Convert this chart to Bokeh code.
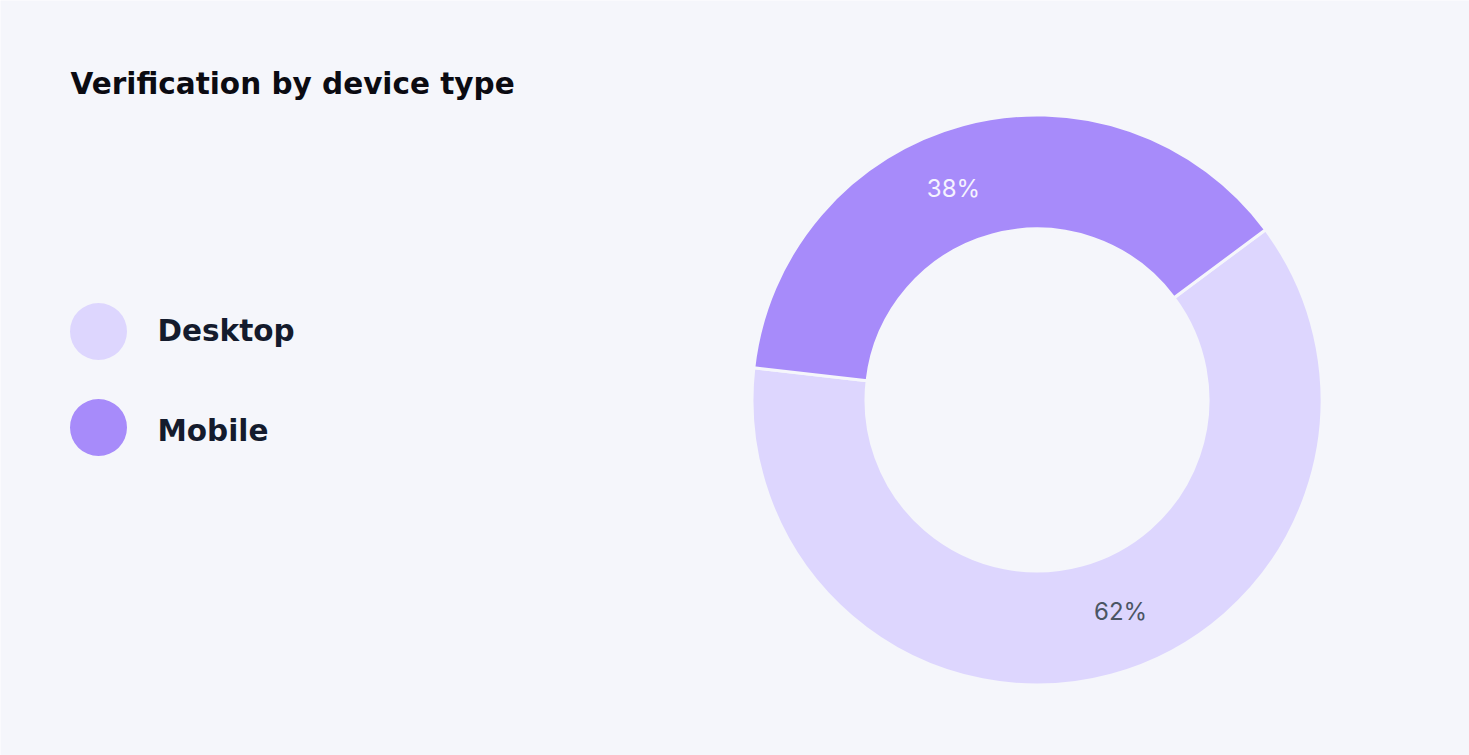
import math
from bokeh.plotting import figure
from bokeh.models import Range1d, ColumnDataSource
from bokeh.core.properties import value
from bokeh.embed import file_html
from bokeh.resources import INLINE

# ---- data ----
categories = ["Desktop", "Mobile"]
shares = [62, 38]
labels = ["62%", "38%"]
colors = ["#DDD6FE", "#A78BFA"]
label_colors = ["#4B5563", "#F5F3FF"]
title_text = "Verification by device type"

W, H = 1469, 755
BG = "#F5F6FB"
FONT = "DejaVu Sans"

p = figure(width=W, height=H, x_range=Range1d(0, W), y_range=Range1d(0, H),
           output_backend="svg", toolbar_location=None, min_border=0,
           background_fill_color=BG, border_fill_color=BG)
p.axis.visible = False
p.grid.visible = False
p.outline_line_color = None

# donut geometry (screen coords, y flipped)
cx, cy = 1036.5, H - 399.5
r_out, r_in = 285, 171
start0 = math.radians(173.5)  # Desktop starts here, going counterclockwise

total = sum(shares)
starts, ends, lx, ly = [], [], [], []
a = start0
for s in shares:
    span = 2 * math.pi * s / total
    starts.append(a)
    ends.append(a + span)
    mid = a + span / 2 + math.radians(6.5)
    lx.append(cx + 227 * math.cos(mid))
    ly.append(cy + 227 * math.sin(mid))
    a += span

src = ColumnDataSource(dict(cat=categories, start=starts, end=ends, color=colors,
                            lx=lx, ly=ly, label=labels, lc=label_colors))
p.annular_wedge(x=cx, y=cy, inner_radius=r_in, outer_radius=r_out,
                start_angle="start", end_angle="end", fill_color="color",
                line_color=BG, line_width=3, source=src)
p.text(x="lx", y="ly", text="label", text_color="lc", source=src,
       text_font=value("Inter"), text_font_size="24px",
       text_align="center", text_baseline="middle")

# title
p.text(x=[70], y=[H - 83], text=[title_text], text_font=value(FONT),
       text_font_size="29.5px", text_font_style="bold", text_color="#0B0B12",
       text_align="left", text_baseline="middle")

# legend
leg_y = [H - 331, H - 427]
p.scatter(x=[98, 98], y=leg_y, size=57, marker="circle", fill_color=colors,
          line_color=None)
p.text(x=[157, 157], y=[H - 330, H - 430], text=categories, text_font=value(FONT),
       text_font_size="29.5px", text_font_style="bold", text_color="#141B2D",
       text_align="left", text_baseline="middle")

open("out.html", "w").write(file_html(p, INLINE))
